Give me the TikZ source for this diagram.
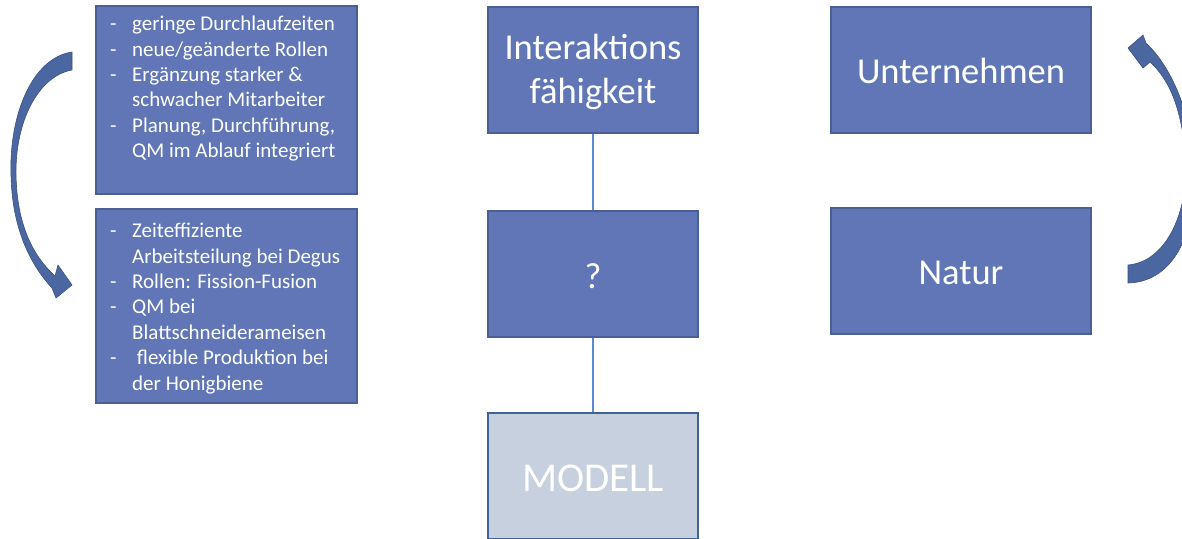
\documentclass[tikz,border=0pt]{standalone}
\usepackage{fontspec}
\setmainfont{Carlito}

\definecolor{kastenblau}{HTML}{6176B6}
\definecolor{randblau}{HTML}{4A5F95}
\definecolor{pfeilblau}{HTML}{4B67A1}
\definecolor{modellgrau}{HTML}{C7D0DE}
\definecolor{modellrand}{HTML}{3F6297}
\definecolor{linienblau}{HTML}{5A8BD0}

\newcommand{\strich}{\makebox[22pt][l]{-}}
\newcommand{\einzug}{\hspace*{22pt}}

\tikzset{
  kasten/.style={draw=randblau, line width=1.5pt, fill=kastenblau, text=white, inner sep=0pt},
  gross/.style={font=\fontsize{36.5}{44}\selectfont, align=center},
  zeile/.style={text height=#1, text depth=0pt},
  liste/.style={text=white, inner sep=0pt, align=left, font=\fontsize{21}{25.4}\selectfont, anchor=north west},
  pfeil/.style={fill=pfeilblau, draw=pfeilblau!80!black, line width=0.6pt},
  linie/.style={draw=linienblau, line width=1.5pt}
}

\begin{document}
\begin{tikzpicture}[x=1pt,y=-1pt]
\useasboundingbox (0,0) rectangle (1182,538);
\clip (0,0) rectangle (1182,538);

% linke Spalte
\node[kasten, minimum width=261pt, minimum height=188pt, anchor=north west] (erfolg) at (95,5) {};
\node[liste] (erfolgtext) at (110,16) {\strich geringe Durchlaufzeiten\\
\strich neue/geänderte Rollen\\
\strich Ergänzung starker \&\\
\einzug schwacher Mitarbeiter\\
\strich Planung, Durchführung,\\
\einzug QM im Ablauf integriert};

\node[kasten, minimum width=261pt, minimum height=194pt, anchor=north west] (vorbild) at (95,208) {};
\node[liste] (vorbildtext) at (110,223) {\strich Zeiteffiziente\\
\einzug Arbeitsteilung bei Degus\\
\strich Rollen: Fission-Fusion\\
\strich QM bei\\
\einzug Blattschneiderameisen\\
\strich\ flexible Produktion bei\\
\einzug der Honigbiene};

% Pfeil links
\fill[pfeil] (72,52) .. controls (32,58) and (9,115) .. (11,175)
  .. controls (12,225) and (28,262) .. (52,288) -- (56,298) -- (72,285) -- (58,265) -- (55,276)
  .. controls (33,256) and (17,225) .. (16,175)
  .. controls (15,122) and (38,76) .. (72,70) -- cycle;

% Mitte
\node[kasten, gross, text height=74pt, minimum width=210pt, minimum height=126pt] (interaktion) at (593,70) {Interaktions\\fähigkeit};
\node[kasten, gross, zeile=28pt, minimum width=210pt, minimum height=126pt] (frage) at (593,274) {?};
\node[kasten, gross, zeile=31pt, draw=modellrand, line width=2.5pt, fill=modellgrau, font=\fontsize{41}{48}\selectfont,
  minimum width=210pt, minimum height=126pt] (modell) at (593,476) {MODELL};

\draw[linie] (interaktion) -- (frage);
\draw[linie] (frage) -- (modell);

% rechte Spalte
\node[kasten, gross, zeile=27pt, minimum width=260pt, minimum height=126pt] (unternehmen) at (961,70) {Unternehmen};
\node[kasten, gross, zeile=26pt, minimum width=260pt, minimum height=126pt] (natur) at (961,271) {Natur};

% Pfeil rechts
\fill[pfeil] (1128,265) -- (1128,283) .. controls (1165,282) and (1190,250) .. (1195,190)
  .. controls (1198,140) and (1180,75) .. (1146,43) -- (1143,35) -- (1128,48) -- (1143,68) -- (1150,62)
  .. controls (1170,80) and (1182,110) .. (1186,160)
  .. controls (1188,215) and (1165,262) .. (1128,265) -- cycle;

\end{tikzpicture}
\end{document}
